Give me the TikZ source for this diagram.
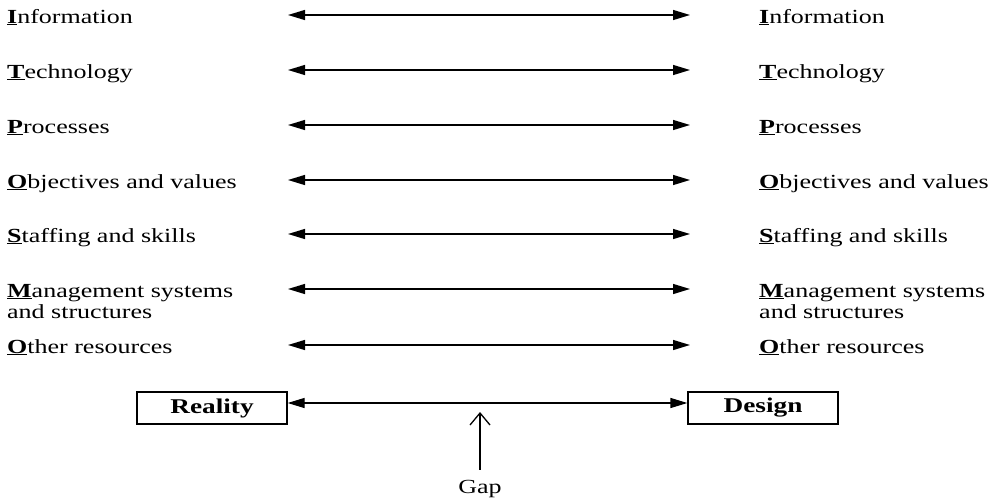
\documentclass[tikz,border=0pt]{standalone}
\usepackage{fontspec}
\setmainfont[FakeStretch=1.30]{Liberation Serif}
\usetikzlibrary{arrows.meta}
\newcommand{\firstlet}[1]{\underline{\textbf{#1}}}
\begin{document}
\begin{tikzpicture}[x=1pt,y=-1pt,
  lbl/.style={anchor=base west,inner sep=0pt,font=\fontsize{20}{21}\selectfont,align=left},
  dbl/.style={line width=1.3pt,{Triangle[length=17pt,width=10pt]}-{Triangle[length=17pt,width=10pt]}},
  boxn/.style={draw,line width=1.3pt,minimum width=150pt,minimum height=32pt,inner sep=0pt,font=\fontsize{21}{22}\selectfont\bfseries}]
\useasboundingbox (0,0) rectangle (996,498);
% left labels
\node[lbl] (l1) at (7,23) {\firstlet{I}nformation};
\node[lbl] (l2) at (7,78) {\firstlet{T}echnology};
\node[lbl] (l3) at (7,133) {\firstlet{P}rocesses};
\node[lbl] (l4) at (7,188) {\firstlet{O}bjectives and values};
\node[lbl] (l5) at (7,242) {\firstlet{S}taffing and skills};
\node[lbl] (l6) at (7,318) {\firstlet{M}anagement systems\\and structures};
\node[lbl] (l7) at (7,353) {\firstlet{O}ther resources};
% right labels
\node[lbl] (r1) at (759,23) {\firstlet{I}nformation};
\node[lbl] (r2) at (759,78) {\firstlet{T}echnology};
\node[lbl] (r3) at (759,133) {\firstlet{P}rocesses};
\node[lbl] (r4) at (759,188) {\firstlet{O}bjectives and values};
\node[lbl] (r5) at (759,242) {\firstlet{S}taffing and skills};
\node[lbl] (r6) at (759,318) {\firstlet{M}anagement systems\\and structures};
\node[lbl] (r7) at (759,353) {\firstlet{O}ther resources};
% arrow ends
\foreach \i/\y in {1/15,2/70,3/125,4/180,5/234,6/289,7/345}{
  \coordinate (a\i) at (288,\y);
  \coordinate (b\i) at (690,\y);
  \draw[dbl] (a\i) -- (b\i);
}
% boxes
\node[boxn] (reality) at (212,408) {Reality};
\node[boxn] (design) at (763,408) {Design};
\draw[dbl] ([yshift=5pt]reality.east) -- ([yshift=5pt]design.west);
% gap
\node[anchor=base,inner sep=0pt,font=\fontsize{20}{21}\selectfont] (gap) at (480,493) {Gap};
\coordinate (gaptip) at (480,412);
\draw[line width=1.3pt,-{Straight Barb[length=12pt,width=20pt]}] ([yshift=10pt]gap.north) -- (gaptip);
\end{tikzpicture}
\end{document}
